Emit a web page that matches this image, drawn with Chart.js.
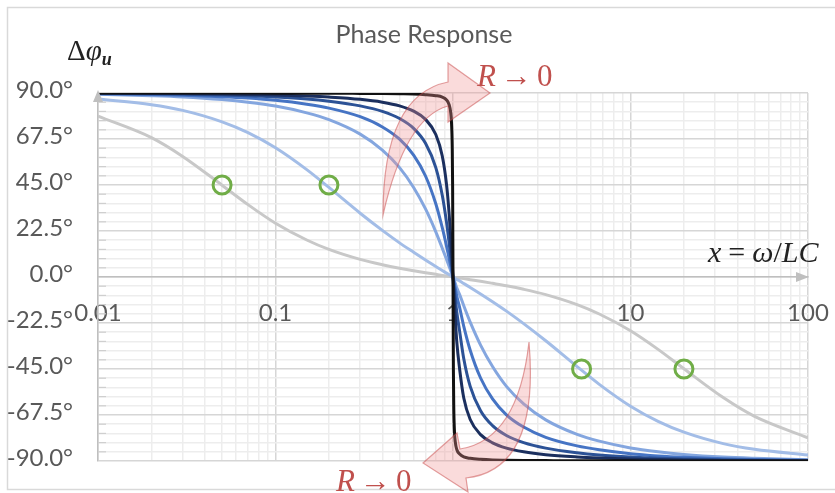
<!DOCTYPE html>
<html>
<head>
<meta charset="utf-8">
<script src="https://cdn.jsdelivr.net/npm/chart.js@4.4.1/dist/chart.umd.min.js"></script>
<style>
  html, body { margin: 0; padding: 0; background: #fff; }
  #wrap { width: 835px; height: 493px; }
</style>
</head>
<body>
<div id="wrap"><canvas id="phaseChart" width="835" height="493"></canvas></div>
<script>
// frequency ratio x = omega / omega0, shared by every curve
const X_VALUES = [0.01, 0.02, 0.03, 0.05, 0.07, 0.1, 0.15, 0.2, 0.3, 0.4, 0.5, 0.6, 0.7, 0.8, 0.87, 0.92, 0.95, 0.97, 0.98, 0.99, 0.995, 1,
                  1.005, 1.01, 1.02, 1.03, 1.05, 1.09, 1.15, 1.25, 1.43, 1.67, 2, 2.5, 3.33, 5, 6.67, 10, 14.3, 20, 33.3, 50, 100];

// phase in degrees (largest R first)
const PHASE_GRAY   = [78.7, 68.2, 59.0, 44.9, 35.4, 26.3, 18.1, 13.5, 8.6, 6.0, 4.3, 3.1, 2.1, 1.3, 0.8, 0.5, 0.3, 0.2, 0.1, 0.1, 0.0, 0,
                      0.0, -0.1, -0.1, -0.2, -0.3, -0.5, -0.8, -1.3, -2.1, -3.1, -4.3, -6.0, -8.6, -13.5, -18.1, -26.3, -35.4, -44.9, -59.0, -68.2, -78.7];
const PHASE_PALE   = [87.1, 84.3, 81.5, 75.9, 70.6, 63.2, 52.5, 43.8, 31.2, 22.8, 16.7, 12.1, 8.3, 5.1, 3.2, 1.9, 1.2, 0.7, 0.5, 0.2, 0.1, 0,
                      -0.1, -0.2, -0.5, -0.7, -1.2, -1.9, -3.2, -5.1, -8.3, -12.1, -16.7, -22.8, -31.2, -43.8, -52.5, -63.2, -70.6, -75.9, -81.5, -84.3, -87.1];
const PHASE_LIGHT  = [89.4, 88.7, 88.1, 86.8, 85.5, 83.6, 80.3, 77.0, 69.9, 62.1, 53.5, 43.8, 33.3, 22.1, 14.1, 8.6, 5.3, 3.1, 2.1, 1.0, 0.5, 0,
                      -0.5, -1.0, -2.1, -3.1, -5.3, -8.6, -14.1, -22.1, -33.3, -43.8, -53.5, -62.1, -69.9, -77.0, -80.3, -83.6, -85.5, -86.8, -88.1, -88.7, -89.4];
const PHASE_MEDIUM = [89.6, 89.3, 88.9, 88.2, 87.5, 86.4, 84.5, 82.6, 78.4, 73.4, 67.4, 59.6, 49.4, 35.8, 24.1, 15.0, 9.3, 5.6, 3.7, 1.8, 0.9, 0,
                      -0.9, -1.8, -3.7, -5.6, -9.3, -15.0, -24.1, -35.8, -49.4, -59.6, -67.4, -73.4, -78.4, -82.6, -84.5, -86.4, -87.5, -88.2, -88.9, -89.3, -89.6];
const PHASE_DARK   = [89.8, 89.6, 89.4, 89.0, 88.7, 88.1, 87.1, 86.0, 83.7, 81.0, 77.5, 72.7, 65.4, 53.5, 40.0, 26.6, 17.1, 10.4, 6.9, 3.5, 1.7, 0,
                      -1.7, -3.5, -6.9, -10.4, -17.1, -26.6, -40.0, -53.5, -65.4, -72.7, -77.5, -81.0, -83.7, -86.0, -87.1, -88.1, -88.7, -89.0, -89.4, -89.6, -89.8];
const PHASE_NAVY   = [89.9, 89.8, 89.7, 89.5, 89.3, 89.0, 88.5, 88.0, 86.9, 85.5, 83.7, 81.1, 77.1, 69.7, 59.2, 45.1, 31.6, 20.1, 13.6, 6.9, 3.4, 0,
                      -3.4, -6.9, -13.6, -20.1, -31.6, -45.1, -59.2, -69.7, -77.1, -81.1, -83.7, -85.5, -86.9, -88.0, -88.5, -89.0, -89.3, -89.5, -89.7, -89.8, -89.9];
const PHASE_BLACK  = [90, 90, 90, 90, 90, 89.9, 89.9, 89.9, 89.8, 89.7, 89.6, 89.5, 89.2, 88.7, 88.0, 86.6, 84.4, 80.7, 76.1, 63.6, 45.1, 0,
                      -45.1, -63.6, -76.1, -80.7, -84.4, -86.6, -88.0, -88.7, -89.2, -89.5, -89.6, -89.7, -89.8, -89.9, -89.9, -89.9, -90, -90, -90, -90, -90];

// +/-45 degree points marked with green rings
const MARKER_X = [0.05, 0.2, 5.3, 20];
const MARKER_Y = [45, 45, -45, -45];

const X_DECADES      = [0.01, 0.1, 1, 10, 100];
const X_DECADE_TEXT  = ["0.01", "0.1", "1", "10", "100"];
const Y_MAJOR_STEP   = 22.5;
const Y_MINOR_STEP   = 4.5;

const LABEL_FONT = "Lato, 'Open Sans', sans-serif";
const MATH_FONT  = "'Liberation Serif', 'DejaVu Serif', serif";
const TEXT_GRAY  = "#595959";
const AXIS_GRAY  = "#bfbfbf";
const RED_TEXT   = "#c0504d";

const isDecade = v => Math.abs(Math.log10(v) - Math.round(Math.log10(v))) < 1e-6;
const isMajorY = v => Math.abs(v / Y_MAJOR_STEP - Math.round(v / Y_MAJOR_STEP)) < 1e-6;

function curve(label, ys, color) {
  return {
    type: "line", label,
    data: X_VALUES.map((x, i) => ({ x, y: ys[i] })),
    borderColor: color, borderWidth: 3, pointRadius: 0,
    cubicInterpolationMode: "monotone", fill: false,
  };
}

function drawRuns(ctx, x, y, runs, color) {
  ctx.fillStyle = color;
  ctx.textAlign = "left";
  ctx.textBaseline = "alphabetic";
  for (const r of runs) {
    ctx.font = `${r.italic ? "italic " : ""}${r.bold ? "bold " : ""}${r.size}px ${MATH_FONT}`;
    ctx.fillText(r.t, x, y + (r.dy || 0));
    x += ctx.measureText(r.t).width + (r.gap || 0);
  }
}

function arrowPath(ctx, steps) {
  ctx.beginPath();
  for (const s of steps) {
    if (s[0] === "M") ctx.moveTo(s[1], s[2]);
    else if (s[0] === "L") ctx.lineTo(s[1], s[2]);
    else ctx.quadraticCurveTo(s[1], s[2], s[3], s[4]);
  }
  ctx.closePath();
  ctx.fillStyle = "rgba(240,145,145,0.33)";
  ctx.fill();
  ctx.strokeStyle = "rgba(200,70,70,0.5)";
  ctx.lineWidth = 1.2;
  ctx.stroke();
}

const decorations = {
  id: "decorations",
  beforeDraw(chart) {
    const { ctx, width, height } = chart;
    ctx.save();
    ctx.fillStyle = "#fff";
    ctx.fillRect(0, 0, width, height);
    ctx.strokeStyle = "#d9d9d9";
    ctx.lineWidth = 1.5;
    ctx.strokeRect(7.5, 7.5, width + 20, height - 11);
    ctx.restore();
  },
  afterDatasetsDraw(chart) {
    const ctx = chart.ctx;
    ctx.save();
    // "R -> 0" bent arrows
    arrowPath(ctx, [["M", 383, 215], ["Q", 383, 95, 448, 82], ["L", 448, 63], ["L", 490, 93],
                    ["L", 448, 122], ["L", 448, 106], ["Q", 405, 118, 383, 215]]);
    arrowPath(ctx, [["M", 529, 342], ["Q", 540, 470, 466, 478], ["L", 468, 492], ["L", 423, 463],
                    ["L", 457, 433], ["L", 460, 449], ["Q", 518, 440, 529, 342]]);
    ctx.restore();
  },
  afterDraw(chart) {
    const { ctx, chartArea } = chart;
    const ys = chart.scales.y;
    const y0 = ys.getPixelForValue(0);
    ctx.save();

    // small inside ticks on the vertical axis
    ctx.strokeStyle = "#cfcfcf";
    ctx.lineWidth = 1.2;
    ys.ticks.forEach(t => {
      if (isMajorY(t.value)) return;
      const py = ys.getPixelForValue(t.value);
      ctx.beginPath();
      ctx.moveTo(chartArea.left, py);
      ctx.lineTo(chartArea.left + 8, py);
      ctx.stroke();
    });

    // axis arrow heads
    ctx.fillStyle = AXIS_GRAY;
    ctx.beginPath();
    ctx.moveTo(chartArea.left, chartArea.top - 3);
    ctx.lineTo(chartArea.left - 5, chartArea.top + 9);
    ctx.lineTo(chartArea.left + 5, chartArea.top + 9);
    ctx.closePath();
    ctx.fill();
    ctx.beginPath();
    ctx.moveTo(chartArea.right + 1, y0);
    ctx.lineTo(chartArea.right - 12, y0 - 5);
    ctx.lineTo(chartArea.right - 12, y0 + 5);
    ctx.closePath();
    ctx.fill();

    // title
    ctx.fillStyle = TEXT_GRAY;
    ctx.font = `25px ${LABEL_FONT}`;
    ctx.textAlign = "center";
    ctx.textBaseline = "middle";
    ctx.fillText("Phase Response", 424, 35);

    // math labels
    drawRuns(ctx, 67, 60, [
      { t: "\u0394", size: 29 },
      { t: "\u03C6", size: 29, italic: true },
      { t: "u", size: 18, italic: true, bold: true, dy: 5 },
    ], "#222");
    drawRuns(ctx, 708, 262, [
      { t: "x", size: 30, italic: true, gap: 7 },
      { t: "=", size: 30, gap: 7 },
      { t: "\u03C9", size: 30, italic: true },
      { t: "/", size: 30 },
      { t: "LC", size: 30, italic: true },
    ], "#222");
    const rTo0 = [
      { t: "R", size: 31, italic: true, gap: 5 },
      { t: "\u2192", size: 31, gap: 5 },
      { t: "0", size: 31 },
    ];
    drawRuns(ctx, 477, 86, rTo0, RED_TEXT);
    drawRuns(ctx, 336, 491, rTo0, RED_TEXT);
    ctx.restore();
  },
};

const ctx = document.getElementById("phaseChart").getContext("2d");
new Chart(ctx, {
  data: {
    datasets: [
      {
        type: "line", label: "45 deg points",
        data: MARKER_X.map((x, i) => ({ x, y: MARKER_Y[i] })),
        showLine: false, pointRadius: 9, pointBorderWidth: 3,
        pointBorderColor: "#70ad47", pointBackgroundColor: "rgba(0,0,0,0)",
      },
      curve("R5", PHASE_BLACK,  "#111111"),
      curve("R4", PHASE_NAVY,   "#1b2f5e"),
      curve("R3", PHASE_DARK,   "#2c5296"),
      curve("R2", PHASE_MEDIUM, "#4674c4"),
      curve("R1", PHASE_LIGHT,  "#84a6df"),
      curve("R0", PHASE_PALE,   "#a3bde7"),
      curve("Rmax", PHASE_GRAY, "#c8c8c8"),
    ],
  },
  options: {
    responsive: false,
    animation: false,
    layout: { autoPadding: false, padding: { left: 0, top: 93, right: 27, bottom: 32 } },
    plugins: { legend: { display: false }, tooltip: { enabled: false } },
    scales: {
      x: {
        type: "logarithmic",
        position: { y: 0 },
        min: 0.01, max: 100,
        afterBuildTicks: scale => {
          const vals = [];
          X_DECADES.slice(0, -1).forEach(d => { for (let k = 1; k < 10; k++) vals.push(d * k); });
          vals.push(X_DECADES[X_DECADES.length - 1]);
          scale.ticks = vals.map(value => ({ value }));
        },
        afterFit: scale => {
          scale.height = 0;
          scale.paddingLeft = 0;
          scale.paddingRight = 0;
        },
        grid: {
          drawTicks: false,
          lineWidth: 1.5,
          color: c => (c.tick && isDecade(c.tick.value) ? "#d6d6d6" : "#ededed"),
        },
        border: { color: AXIS_GRAY, width: 1.5 },
        ticks: {
          autoSkip: false, maxRotation: 0, padding: 22,
          color: TEXT_GRAY, font: { family: LABEL_FONT, size: 24 },
          callback: v => {
            const i = X_DECADES.findIndex(d => Math.abs(d - v) / d < 1e-6);
            return i >= 0 ? X_DECADE_TEXT[i] : "";
          },
        },
      },
      y: {
        type: "linear",
        min: -90, max: 90,
        afterFit: scale => {
          scale.width = 98;
          scale.paddingTop = 0;
          scale.paddingBottom = 0;
        },
        grid: {
          drawTicks: false,
          lineWidth: 1.5,
          color: c => (c.tick && isMajorY(c.tick.value) ? "#d6d6d6" : "#ededed"),
        },
        border: { color: AXIS_GRAY, width: 1.5 },
        ticks: {
          stepSize: Y_MINOR_STEP, autoSkip: false, padding: 25, labelOffset: -3,
          color: TEXT_GRAY, font: { family: LABEL_FONT, size: 24 },
          callback: v => (isMajorY(v) ? v.toFixed(1) + "\u00B0" : ""),
        },
      },
    },
  },
  plugins: [decorations],
});
</script>
</body>
</html>
